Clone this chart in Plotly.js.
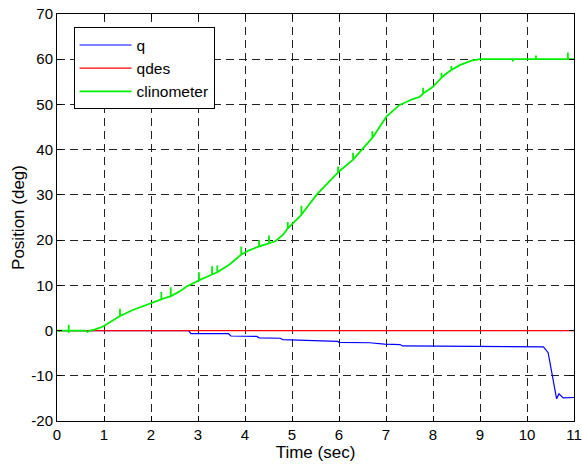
<!DOCTYPE html>
<html>
<head>
<meta charset="utf-8">
<script src="https://cdn.plot.ly/plotly-3.0.1.min.js"></script>
<style>html,body{margin:0;padding:0;background:#fff;}#chart{width:582px;height:465px;}</style>
</head>
<body>
<div id="chart"></div>
<script>
// q (measured joint position)
var qTime = [0, 2.8, 2.85, 3.65, 3.7, 4.25, 4.3, 4.75, 4.8, 5.5, 5.97, 6.0, 6.65, 6.97, 7.3, 7.35, 8.55, 8.6, 10.35, 10.45, 10.55, 10.63, 10.68, 10.77, 11];
var qValues = [0, 0, -0.7, -0.7, -1.2, -1.3, -1.6, -1.7, -2.0, -2.2, -2.4, -2.6, -2.7, -3.0, -3.1, -3.4, -3.5, -3.6, -3.6, -4.9, -10.1, -15.1, -14.0, -14.9, -14.8];

// qdes (desired position)
var qdesTime = [0, 11];
var qdesValues = [0, 0];

// clinometer reading (with small spikes)
var clinoTime = [0, 0.25, 0.25, 0.25, 0.25, 0.6, 0.65, 0.7, 0.8, 0.98, 1.15,
  1.34, 1.34, 1.34, 1.6, 1.97,
  2.22, 2.22, 2.22, 2.42, 2.42, 2.42, 2.6, 2.75,
  3.02, 3.02, 3.02, 3.30, 3.30, 3.30, 3.41, 3.41, 3.41, 3.67,
  3.92, 3.92, 3.92, 4.1, 4.30, 4.30, 4.30, 4.51, 4.51, 4.51, 4.65, 4.81,
  4.91, 4.91, 4.91, 5.2, 5.2, 5.2, 5.52,
  5.98, 5.98, 5.98, 6.30, 6.30, 6.30, 6.51, 6.71, 6.71, 6.71, 6.80, 7.01, 7.29, 7.57, 7.72,
  7.79, 7.79, 7.79, 8.0, 8.18, 8.18, 8.18, 8.29, 8.39, 8.39, 8.39, 8.57, 8.82, 9.0,
  9.7, 9.7, 9.7, 10.19, 10.19, 10.19, 10.87, 10.87, 10.87, 11];
var clinoValues = [0, 0, 1.3, -0.5, 0, 0, -0.3, 0, 0.2, 0.9, 1.9,
  3.2, 4.8, 3.2, 4.5, 6.0,
  6.9, 8.5, 6.9, 7.6, 9.6, 7.6, 8.6, 9.7,
  11.1, 12.9, 11.1, 12.4, 14.2, 12.4, 12.9, 14.4, 12.9, 14.6,
  16.8, 18.6, 16.8, 17.8, 18.6, 20.0, 18.6, 19.3, 21.0, 19.3, 19.8, 21.2,
  22.6, 24.0, 22.6, 25.6, 27.6, 25.6, 30.0,
  35.0, 36.3, 35.0, 37.8, 39.3, 37.8, 40.3, 42.6, 44.1, 42.6, 44.0, 47.3, 49.9, 51.2, 51.7,
  52.4, 53.7, 52.4, 53.9, 55.9, 57.0, 55.9, 56.9, 57.6, 58.5, 57.6, 58.7, 59.7, 60,
  60, 59.5, 60, 60, 60.8, 60, 60, 61.5, 60, 60];

var xTickVals = [0, 1, 2, 3, 4, 5, 6, 7, 8, 9, 10, 11];
var xTickText = ["0", "1", "2", "3", "4", "5", "6", "7", "8", "9", "10", "11"];
var yTickVals = [-20, -10, 0, 10, 20, 30, 40, 50, 60, 70];
var yTickText = ["-20", "-10", "0", "10", "20", "30", "40", "50", "60", "70"];

var font = "Arial, 'Liberation Sans', sans-serif";

var traces = [
  {x: qTime, y: qValues, name: "q", mode: "lines", line: {color: "#0000ff", width: 1.2}},
  {x: qdesTime, y: qdesValues, name: "qdes", mode: "lines", line: {color: "#ff0000", width: 1.2}},
  {x: clinoTime, y: clinoValues, name: "clinometer", mode: "lines", line: {color: "#00ee00", width: 1.8}}
];

var axisCommon = {
  showline: true, mirror: "ticks", linecolor: "#000", linewidth: 1,
  ticks: "inside", ticklen: 5, tickcolor: "#000", tickwidth: 1,
  showgrid: true, gridcolor: "#222", gridwidth: 1, griddash: "8px,5px",
  zeroline: false, tickmode: "array",
  tickfont: {family: font, size: 15, color: "#000"}
};

var layout = {
  width: 582, height: 465,
  margin: {l: 57, r: 8, t: 14, b: 44},
  paper_bgcolor: "#fff", plot_bgcolor: "#fff",
  showlegend: true,
  legend: {
    x: 0.032, y: 0.967, xanchor: "left", yanchor: "top",
    bgcolor: "#fff", bordercolor: "#000", borderwidth: 1,
    font: {family: font, size: 15.5, color: "#000"},
    tracegroupgap: 0, itemwidth: 52
  },
  xaxis: Object.assign({}, axisCommon, {
    range: [0, 11], tickvals: xTickVals, ticktext: xTickText,
    title: {text: "Time (sec)", font: {family: font, size: 17, color: "#000"}, standoff: 2}
  }),
  yaxis: Object.assign({}, axisCommon, {
    range: [-20, 70], tickvals: yTickVals, ticktext: yTickText,
    title: {text: "Position (deg)", font: {family: font, size: 17, color: "#000"}, standoff: 2}
  })
};

Plotly.newPlot("chart", traces, layout, {displayModeBar: false, staticPlot: true});
</script>
</body>
</html>
